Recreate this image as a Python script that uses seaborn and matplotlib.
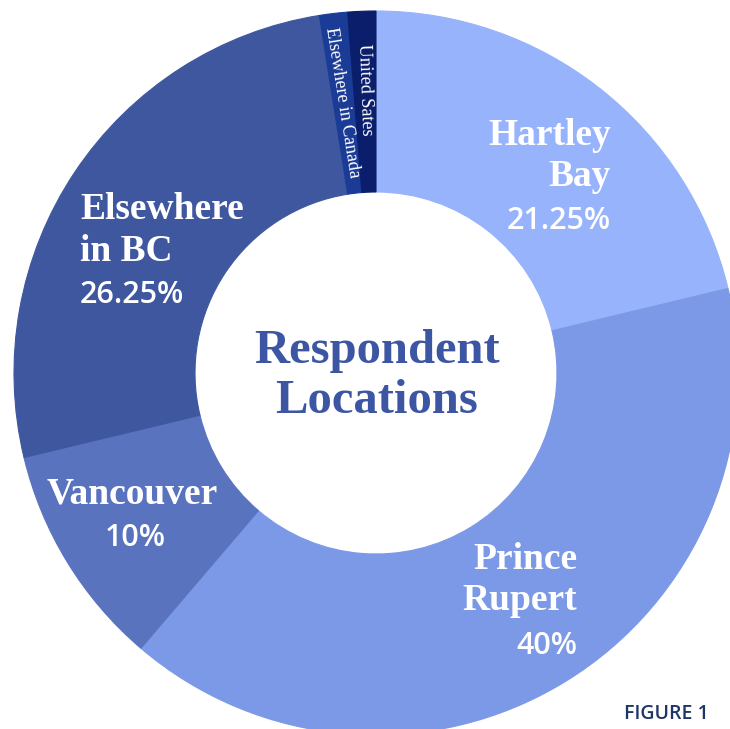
import matplotlib
matplotlib.use('Agg')
import matplotlib.pyplot as plt
import seaborn as sns

# Data
locations = ['Hartley Bay', 'Prince Rupert', 'Vancouver', 'Elsewhere in BC',
             'Elsewhere in Canada', 'United Sates']
shares = [21.25, 40, 10, 26.25, 1.25, 1.25]
colors = ['#97b3fb', '#7c99e8', '#5a73bf', '#3e579f', '#1b3c96', '#0b1e6c']

sns.set_theme(style='white')

W, H = 730, 729
fig = plt.figure(figsize=(W / 100, H / 100), dpi=100)
fig.patch.set_facecolor('white')
ax = fig.add_axes([0, 0, 1, 1])

# ring geometry in pixels (centre and outer radius)
cx, cy, r = 376, 373, 362

wedges, _ = ax.pie(shares, colors=colors, startangle=90, counterclock=False,
                   radius=1, wedgeprops=dict(width=0.5, linewidth=0.8))
for w in wedges:
    w.set_edgecolor(w.get_facecolor())

ax.set_aspect('auto')
ax.set_xlim(-cx / r, (W - cx) / r)
ax.set_ylim(-(H - cy) / r, cy / r)
ax.axis('off')

serif = 'Liberation Serif'
sans = 'Open Sans'


def put(x, y, s, **kw):
    fig.text(x / W, 1 - y / H, s, va='baseline', **kw)


lab = dict(family=serif, fontsize=27, fontweight='bold', color='white')
pct = dict(family=sans, fontsize=22, fontweight='semibold', color='white')

put(611, 145, 'Hartley', ha='right', **lab)
put(611, 186, 'Bay', ha='right', **lab)
put(611, 229, '21.25%', ha='right', **pct)

put(80, 219, 'Elsewhere', ha='left', **lab)
put(80, 261, 'in BC', ha='left', **lab)
put(80, 303, '26.25%', ha='left', **pct)

put(132, 503, 'Vancouver', ha='center', **lab)
put(135, 546, '10%', ha='center', **pct)

put(577, 569, 'Prince', ha='right', **lab)
put(577, 610, 'Rupert', ha='right', **lab)
put(577, 654, '40%', ha='right', **pct)

title = dict(family=serif, fontsize=35, fontweight='bold', color='#3d56a3', ha='center')
put(377, 363, 'Respondent', **title)
put(377, 413, 'Locations', **title)

# small rotated labels on the thin slices
fig.text(342 / W, 1 - 102 / H, 'Elsewhere in Canada', family=serif, fontsize=13,
         color='white', rotation=-81, ha='center', va='center', rotation_mode='anchor')
fig.text(365 / W, 1 - 90 / H, 'United Sates', family=serif, fontsize=13,
         color='white', rotation=-88, ha='center', va='center', rotation_mode='anchor')

fig.text(624 / W, 1 - 719 / H, 'FIGURE 1', family=sans, fontsize=14,
         fontweight='semibold', color='#1e3568', ha='left', va='baseline')

fig.savefig('out.png', dpi=100, facecolor='white')
